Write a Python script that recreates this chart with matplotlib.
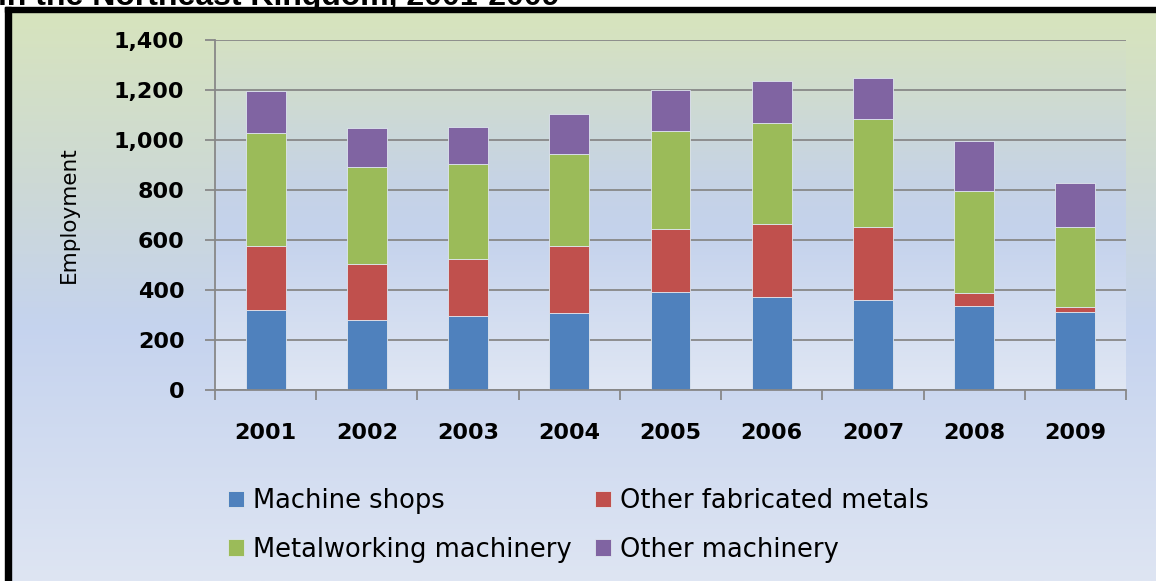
import numpy as np
import matplotlib
matplotlib.use("Agg")
from matplotlib import pyplot as plt
from matplotlib.patches import Rectangle
from matplotlib.ticker import FuncFormatter, FixedLocator

years = ["2001", "2002", "2003", "2004", "2005", "2006", "2007", "2008", "2009"]
machine_shops = [320, 279, 295, 308, 392, 371, 361, 335, 313]
other_fab_metals = [256, 225, 229, 268, 251, 293, 292, 52, 18]
metalworking = [451, 389, 379, 368, 394, 404, 430, 409, 322]
other_machinery = [170, 154, 149, 160, 163, 169, 164, 201, 174]

series_names = ["Machine shops", "Other fabricated metals",
                "Metalworking machinery", "Other machinery"]
series_colors = ["#4f81bd", "#c0504d", "#9bbb59", "#8064a2"]

W, H = 1156, 581
fig = plt.figure(figsize=(W / 100, H / 100), dpi=100)
fig.patch.set_facecolor("white")


def px(x0, y0, x1, y1):
    # pixel box -> figure fraction rect
    return [x0 / W, 1 - y1 / H, (x1 - x0) / W, (y1 - y0) / H]


def grad(stops, n=300):
    t = np.linspace(0, 1, n)
    pos = [s[0] for s in stops]
    cols = np.array([matplotlib.colors.to_rgb(s[1]) for s in stops])
    img = np.stack([np.interp(t, pos, cols[:, k]) for k in range(3)], axis=1)
    return img[:, None, :]


# chart area background (inside the black frame)
bg = fig.add_axes(px(11, 12, W, H), zorder=-10)
bg.imshow(grad([(0, "#d7e4bd"), (0.3, "#cdd9d5"), (0.55, "#c5d3ee"),
                (1, "#dee5f3")]), aspect="auto", extent=[0, 1, 1, 0])
bg.set_axis_off()

# black frame (top and left edges)
fig.patches.append(Rectangle((5 / W, 1 - 12 / H), 1, 5 / H, transform=fig.transFigure,
                             color="black", zorder=5))
fig.patches.append(Rectangle((5 / W, 0), 6 / W, 1 - 7 / H, transform=fig.transFigure,
                             color="black", zorder=5))

# title, cut off at the top edge like in the source
fig.text(-2 / W, 1 - 5 / H, "in the Northeast Kingdom, 2001-2009", fontsize=23,
         fontweight="bold", family="Liberation Sans", va="baseline", ha="left")

ax = fig.add_axes(px(215, 40, 1126, 390))
ax.imshow(grad([(0, "#d5e1c3"), (0.4, "#c6d3e5"), (0.55, "#c4d2ec"),
                (1, "#e0e7f4")]), aspect="auto", extent=[-0.5, 8.5, 0, 1400],
          zorder=0)

x = np.arange(len(years))
bottom = np.zeros(len(years))
bars = []
for vals, name, col in zip([machine_shops, other_fab_metals, metalworking, other_machinery],
                           series_names, series_colors):
    b = ax.bar(x, vals, width=0.395, bottom=bottom, color=col, label=name,
               edgecolor="#dfe6ef", linewidth=0.6, zorder=3)
    bars.append(b)
    bottom += np.array(vals)

ax.set_xlim(-0.5, 8.5)
ax.set_ylim(0, 1400)
ax.set_yticks(range(0, 1401, 200))
ax.yaxis.set_major_formatter(FuncFormatter(lambda v, p: f"{int(v):,}"))
ax.grid(axis="y", color="#888888", linewidth=1.3, zorder=1)

ax.set_xticks(x)
ax.set_xticklabels(years)
ax.xaxis.set_minor_locator(FixedLocator(np.arange(-0.5, 9, 1)))
ax.tick_params(axis="x", which="major", length=0, pad=24)
ax.tick_params(axis="x", which="minor", length=7, width=1.3, color="#888888")
ax.tick_params(axis="y", length=7, width=1.3, color="#888888", pad=15)
for lab in ax.get_xticklabels() + ax.get_yticklabels():
    lab.set_family("DejaVu Sans")
    lab.set_fontweight("bold")
    lab.set_fontsize(16)

for s in ["top", "right"]:
    ax.spines[s].set_visible(False)
for s in ["left", "bottom"]:
    ax.spines[s].set_color("#888888")
    ax.spines[s].set_linewidth(1.3)
    ax.spines[s].set_zorder(4)

ax.set_ylabel("Employment", fontsize=15.5, family="DejaVu Sans")
ax.yaxis.set_label_coords(-0.149, 0.5)

# legend filled row by row: MS, OF / MW, OM
order = [0, 2, 1, 3]
leg = fig.legend([bars[i] for i in order], [series_names[i] for i in order],
                 ncol=2, loc="upper left", bbox_to_anchor=(228 / W, 1 - 488 / H),
                 frameon=False, borderpad=0, borderaxespad=0,
                 prop={"family": "DejaVu Sans", "size": 18.5},
                 handlelength=0.62, handleheight=0.62, handletextpad=0.35,
                 columnspacing=0.9, labelspacing=0.88)

fig.savefig("out.png", dpi=100)
